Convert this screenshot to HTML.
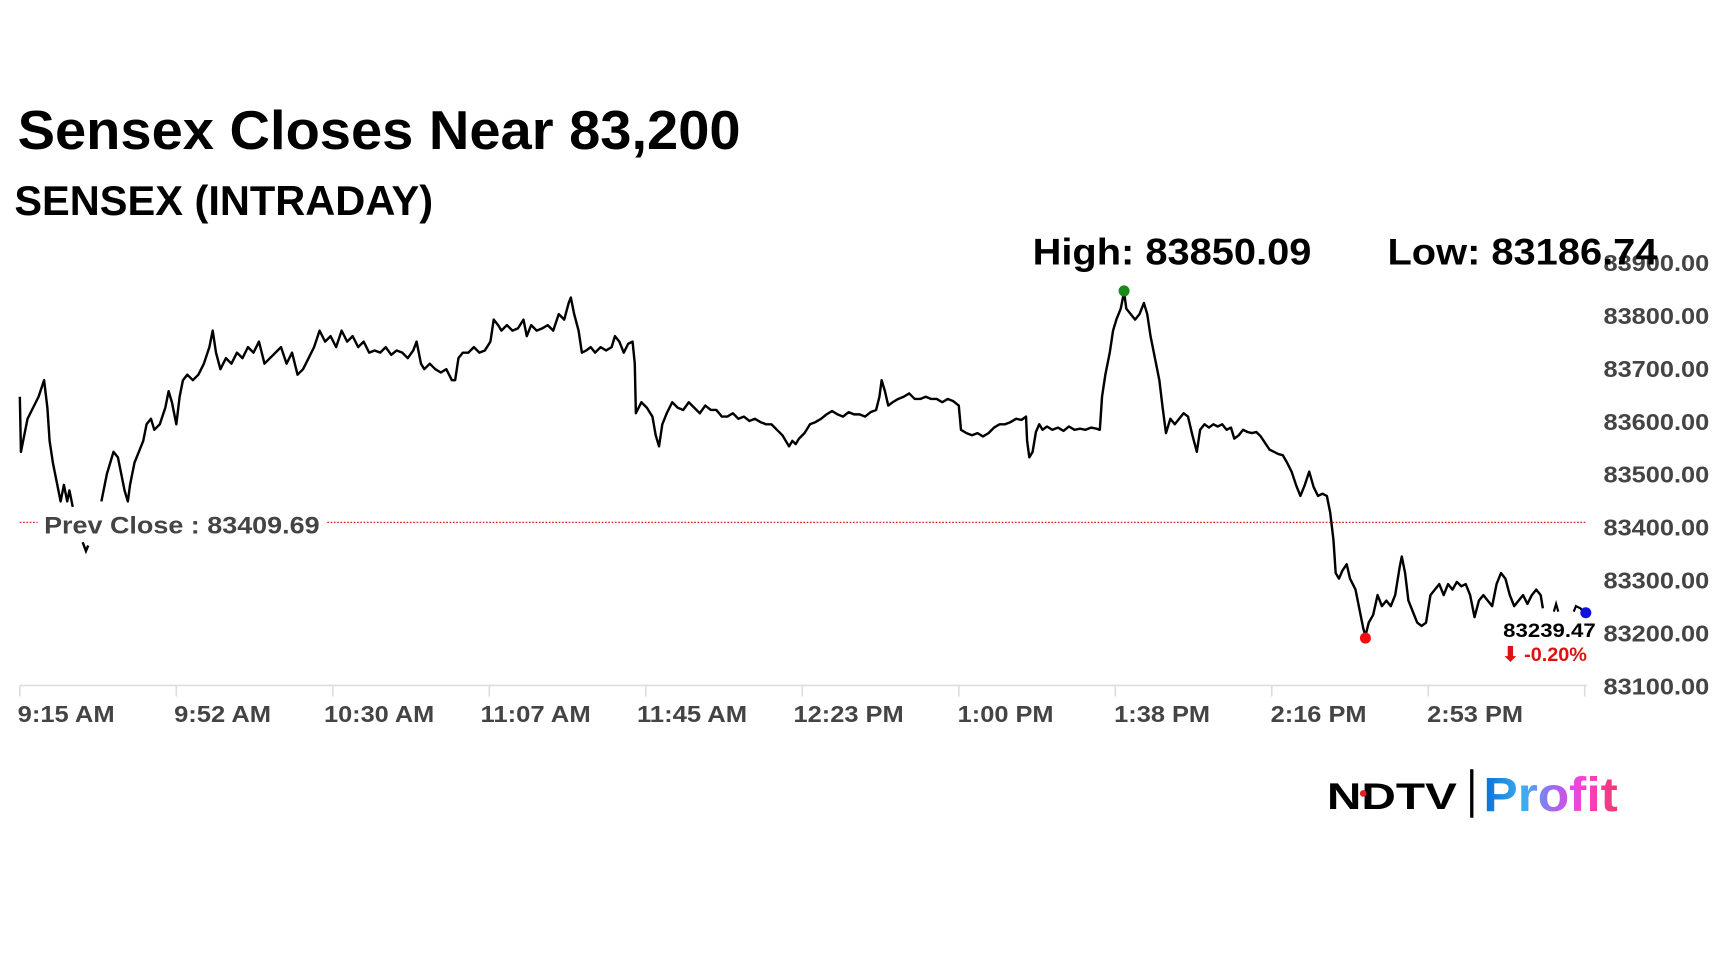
<!DOCTYPE html>
<html><head><meta charset="utf-8"><style>
html,body{margin:0;padding:0;background:#fff;width:1728px;height:972px;overflow:hidden}
svg{display:block}
</style></head><body>
<svg width="1728" height="972" viewBox="0 0 1568 882" xmlns="http://www.w3.org/2000/svg" font-family="'Liberation Sans', sans-serif">
<defs>
<linearGradient id="pg" x1="0" x2="1" y1="0" y2="0">
<stop offset="0" stop-color="#0a6fd8"/><stop offset="0.3" stop-color="#3ab0f0"/><stop offset="0.55" stop-color="#b060f0"/><stop offset="0.75" stop-color="#ff3fd0"/><stop offset="1" stop-color="#f0386a"/>
</linearGradient>
</defs>
<text x="16" y="135" font-size="50" font-weight="bold" textLength="656" lengthAdjust="spacingAndGlyphs">Sensex Closes Near 83,200</text>
<text x="13" y="195" font-size="38" font-weight="bold" textLength="380" lengthAdjust="spacingAndGlyphs">SENSEX (INTRADAY)</text>
<text x="937" y="240" font-size="34" font-weight="bold" textLength="253" lengthAdjust="spacingAndGlyphs">High: 83850.09</text>
<g font-size="21" font-weight="bold" fill="#444">
<text x="1455" y="246" textLength="96" lengthAdjust="spacingAndGlyphs">83900.00</text>
<text x="1455" y="294" textLength="96" lengthAdjust="spacingAndGlyphs">83800.00</text>
<text x="1455" y="342" textLength="96" lengthAdjust="spacingAndGlyphs">83700.00</text>
<text x="1455" y="390" textLength="96" lengthAdjust="spacingAndGlyphs">83600.00</text>
<text x="1455" y="438" textLength="96" lengthAdjust="spacingAndGlyphs">83500.00</text>
<text x="1455" y="486" textLength="96" lengthAdjust="spacingAndGlyphs">83400.00</text>
<text x="1455" y="534" textLength="96" lengthAdjust="spacingAndGlyphs">83300.00</text>
<text x="1455" y="582" textLength="96" lengthAdjust="spacingAndGlyphs">83200.00</text>
<text x="1455" y="630" textLength="96" lengthAdjust="spacingAndGlyphs">83100.00</text>
</g>
<text x="1259" y="240" font-size="34" font-weight="bold" textLength="245" lengthAdjust="spacingAndGlyphs">Low: 83186.74</text>
<line x1="18" y1="622" x2="1440" y2="622" stroke="#ddd" stroke-width="1.5"/>
<g stroke="#ddd" stroke-width="1.5">
<line x1="18" y1="622" x2="18" y2="632"/><line x1="160" y1="622" x2="160" y2="632"/><line x1="302" y1="622" x2="302" y2="632"/><line x1="444" y1="622" x2="444" y2="632"/><line x1="586" y1="622" x2="586" y2="632"/><line x1="728" y1="622" x2="728" y2="632"/><line x1="870" y1="622" x2="870" y2="632"/><line x1="1012" y1="622" x2="1012" y2="632"/><line x1="1154" y1="622" x2="1154" y2="632"/><line x1="1296" y1="622" x2="1296" y2="632"/><line x1="1438" y1="622" x2="1438" y2="632"/>
</g>
<g font-size="21" font-weight="bold" fill="#444">
<text x="16" y="655" textLength="88" lengthAdjust="spacingAndGlyphs">9:15 AM</text>
<text x="158" y="655" textLength="88" lengthAdjust="spacingAndGlyphs">9:52 AM</text>
<text x="294" y="655" textLength="100" lengthAdjust="spacingAndGlyphs">10:30 AM</text>
<text x="436" y="655" textLength="100" lengthAdjust="spacingAndGlyphs">11:07 AM</text>
<text x="578" y="655" textLength="100" lengthAdjust="spacingAndGlyphs">11:45 AM</text>
<text x="720" y="655" textLength="100" lengthAdjust="spacingAndGlyphs">12:23 PM</text>
<text x="869" y="655" textLength="87" lengthAdjust="spacingAndGlyphs">1:00 PM</text>
<text x="1011" y="655" textLength="87" lengthAdjust="spacingAndGlyphs">1:38 PM</text>
<text x="1153" y="655" textLength="87" lengthAdjust="spacingAndGlyphs">2:16 PM</text>
<text x="1295" y="655" textLength="87" lengthAdjust="spacingAndGlyphs">2:53 PM</text>
</g>
<polyline fill="none" stroke="#000" stroke-width="2.2" stroke-linejoin="round" points="18,360 19,410 22,395 25,380 30,370 35,360 40,345 43,370 45,400 48,420 52,440 55,455 58,440 61,455 63,445 66,460"/>
<polyline fill="none" stroke="#000" stroke-width="2.2" points="75,492 78,500 80,495"/>
<polyline fill="none" stroke="#000" stroke-width="2.2" stroke-linejoin="round" points="92,455 97,430 100,420 103,410 107,415 110,430 113,445 116,455 118,440 122,420 126,410 130,400 133,385 137,380 140,390 145,385 150,370 153,355 156,365 160,385 163,360 166,345 170,340 175,345 180,340 185,330 190,315 193,300 196,320 200,335 205,325 210,330 215,320 220,325 225,315 230,320 235,310 240,330 245,325 250,320 255,315 260,330 265,320 270,340 275,335 280,325 285,315 290,300 295,310 300,305 305,315 310,300 315,310 320,305 325,315 330,310 335,320 340,318 345,320 350,315 355,322 360,318 365,320 370,325 375,318 378,310 382,330 385,335 390,330 395,335 400,338 405,335 410,345 413,345 416,325 420,320 425,320 430,315 435,320 440,318 445,310 448,290 452,295 455,300 460,295 465,300 470,298 475,290 478,305 482,295 487,300 492,298 497,295 502,300 507,285 512,290 516,275 518,270 521,285 525,300 528,320 532,318 536,315 540,320 545,315 550,318 555,315 558,305 562,310 566,320 570,312 574,310 576,330 577,375 582,365 587,370 592,378 595,395 598,405 601,385 605,375 610,365 615,370 620,372 625,365 630,370 635,375 640,368 645,372 650,372 655,378 660,378 665,375 670,380 675,378 680,382 685,380 690,383 695,385 700,385 705,390 710,395 713,400 716,405 719,400 722,403 725,398 730,393 735,385 740,383 745,380 750,376 755,373 760,376 765,378 770,374 775,376 780,376 785,378 790,374 795,372 798,360 800,345 803,355 806,368 810,365 815,362 820,360 825,357 830,362 835,362 840,360 845,362 850,362 855,365 860,362 865,364 870,368 872,390 877,393 882,395 887,393 892,396 897,393 902,388 907,385 912,385 917,383 922,380 927,381 931,378 932,400 934,415 937,410 940,392 943,385 946,390 950,387 955,390 960,388 965,391 970,387 975,390 980,389 985,390 990,388 995,389 998,390 1000,360 1003,340 1007,320 1010,300 1013,290 1017,280 1020,265 1022,280 1026,285 1030,290 1034,285 1038,275 1041,285 1044,305 1048,325 1052,345 1055,370 1058,393 1062,380 1066,385 1070,380 1074,375 1078,378 1082,395 1086,410 1089,390 1093,385 1097,388 1101,385 1105,387 1109,385 1113,390 1117,388 1120,398 1124,395 1128,390 1132,392 1136,393 1140,392 1144,396 1148,402 1152,408 1156,410 1160,412 1164,413 1168,420 1172,428 1176,440 1180,450 1184,440 1188,428 1192,442 1196,450 1200,448 1204,450 1207,465 1210,490 1212,520 1215,525 1218,518 1222,512 1225,525 1230,535 1234,555 1237,570 1239,577 1242,565 1246,558 1250,540 1254,550 1258,545 1262,550 1266,540 1270,515 1272,505 1275,520 1278,545 1282,555 1286,565 1290,568 1294,565 1298,540 1302,535 1306,530 1310,540 1314,530 1318,535 1322,528 1326,532 1330,530 1334,540 1338,560 1342,545 1346,540 1350,545 1354,550 1358,530 1362,520 1366,525 1370,540 1374,550 1378,545 1382,540 1386,548 1390,540 1394,535 1398,540 1400,552"/>
<polyline fill="none" stroke="#000" stroke-width="2" points="1410,555 1412,548 1414,555"/>
<polyline fill="none" stroke="#000" stroke-width="2" points="1428,555 1430,550 1434,552 1438,556"/>
<line x1="18" y1="474" x2="1440" y2="474" stroke="#e02020" stroke-width="1.2" stroke-dasharray="1.5,1.5"/>
<rect x="34" y="460" width="262" height="26" fill="#fff"/>
<text x="40" y="484" font-size="22" font-weight="bold" fill="#444" textLength="250" lengthAdjust="spacingAndGlyphs">Prev Close : 83409.69</text>
<circle cx="1020" cy="264" r="5" fill="#1a8a1a"/>
<circle cx="1239" cy="579" r="5" fill="#f01010"/>
<circle cx="1439" cy="556" r="5" fill="#1010e0"/>
<text x="1448" y="578" font-size="18" font-weight="bold" text-anchor="end" textLength="84" lengthAdjust="spacingAndGlyphs">83239.47</text>
<text x="1440" y="600" font-size="18" font-weight="bold" fill="#e01010" text-anchor="end">⬇ -0.20%</text>
<text x="1204" y="734" font-size="34" font-weight="900" font-family="'Liberation Sans', sans-serif" textLength="118" lengthAdjust="spacingAndGlyphs">NDTV</text>
<circle cx="1237" cy="720" r="3" fill="#e02020"/>
<rect x="1334" y="698" width="3" height="44" fill="#000"/>
<text x="1346" y="736" font-size="44" font-weight="bold" fill="url(#pg)" textLength="122" lengthAdjust="spacingAndGlyphs">Profit</text>
</svg>
</body></html>
